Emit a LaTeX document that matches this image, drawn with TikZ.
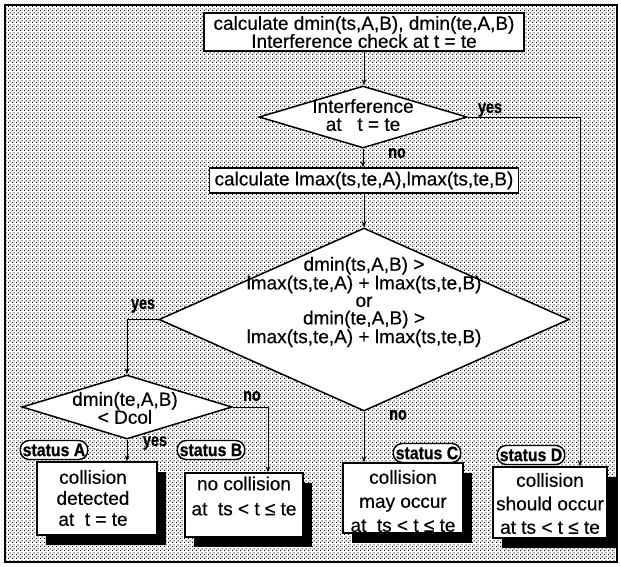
\documentclass[tikz,border=0pt]{standalone}
\usepackage{fontspec}
\setmainfont{Liberation Sans}
\newfontfamily\flowfont[FakeBold=0.4]{Liberation Sans}
\newfontfamily\tagfont[FakeStretch=0.88,FakeBold=0.8]{Liberation Sans}
\newfontfamily\ansfont[FakeStretch=0.8,FakeBold=0.8]{Liberation Sans}
\usetikzlibrary{shapes.geometric,arrows.meta,patterns.meta,shadows}

% fine dotted screen for the background
\tikzdeclarepattern{
  name=stipple, type=uncolored,
  bottom left={(0pt,0pt)}, top right={(4pt,4pt)}, tile size={(4pt,4pt)},
  code={\fill (0pt,0pt) rectangle (1.3pt,1.3pt);
        \fill (2pt,2pt) rectangle (3.3pt,3.3pt);}
}

\tikzset{
  box/.style={draw, line width=1.5pt, fill=white, inner sep=0pt},
  txt/.style={font=\flowfont\fontsize{19}{18}\selectfont, align=center, inner sep=0pt},
  stat/.style={box, drop shadow={shadow xshift=9pt, shadow yshift=-10pt, fill=black, opacity=1}},
  dia/.style={diamond, draw, line width=1.5pt, fill=white, inner sep=0pt},
  tag/.style={font=\tagfont\bfseries\fontsize{18}{18}\selectfont, draw, line width=1.4pt,
    fill=white, rounded corners=9pt, minimum height=19pt, inner xsep=2.5pt, inner ysep=0pt},
  ans/.style={font=\ansfont\bfseries\fontsize{18}{18}\selectfont, inner sep=0pt},
  arr/.style={line width=1pt, -{Stealth[length=6pt,width=4.5pt]}},
}

\begin{document}
\begin{tikzpicture}[x=1pt, y=-1pt]
\useasboundingbox (0,0) rectangle (621,566);
\fill[white] (5,5) rectangle (617,562);
\draw[line width=1.5pt, pattern=stipple, pattern color=black] (5,5) rectangle (617,562);

% process boxes
\node[box, txt, minimum width=320pt, minimum height=38pt] (top) at (364,32)
  {calculate dmin(ts,A,B), dmin(te,A,B)\\Interference check at t = te};
\node[box, txt, minimum width=309pt, minimum height=25pt] (lmax) at (364,180.5)
  {calculate lmax(ts,te,A),lmax(ts,te,B)};

% decisions
\node[dia, minimum width=208pt, minimum height=62pt] (d1) at (363,117) {};
\node[txt] (d1t) at (363,115) {Interference\\at \ \ t = te};
\node[dia, minimum width=410pt, minimum height=183pt] (d2) at (364,319.5) {};
\node[txt, font=\flowfont\fontsize{19}{17.5}\selectfont] (d2t) at (364,302)
  {dmin(ts,A,B) >\\lmax(ts,te,A) + lmax(ts,te,B)\\or\\dmin(te,A,B) >\\lmax(ts,te,A) + lmax(ts,te,B)};
\node[dia, minimum width=210pt, minimum height=64pt] (d3) at (127,407) {};
\node[txt] (d3t) at (125,408) {dmin(te,A,B)\\< Dcol};

% result boxes
\node[stat, minimum width=120pt, minimum height=73pt] (bA) at (97,498.5) {};
\node[stat, minimum width=118pt, minimum height=64pt] (bB) at (244,505) {};
\node[stat, minimum width=120pt, minimum height=70pt] (bC) at (403,498) {};
\node[stat, minimum width=114pt, minimum height=71pt] (bD) at (550,502.5) {};
\node[txt, font=\flowfont\fontsize{19}{21}\selectfont] (tA) at (93,498) {collision\\detected\\at \ t = te};
\node[txt, font=\flowfont\fontsize{19}{25}\selectfont] (tB) at (244,496) {no collision\\at \ ts < t ≤ te};
\node[txt, font=\flowfont\fontsize{19}{24}\selectfont] (tC) at (403,501) {collision\\may occur\\at \ ts < t ≤ te};
\node[txt, font=\flowfont\fontsize{19}{23.5}\selectfont] (tD) at (550,503.5) {collision\\should occur\\at ts < t ≤ te};

% connectors
\coordinate (colD) at (580,0);
\coordinate (colB) at (268,0);
\draw[arr] (top.south) -- (d1.north -| top.south);
\draw[arr] (d1.south) -- (lmax.north -| d1.south);
\draw[arr] (lmax.south) -- (d2.north);
\draw[arr] (d1.east) -| (colD |- bD.north);
\draw[arr] (d2.west) -| (d3.north);
\draw[arr] (d3.south) -- (d3.south |- bA.north);
\draw[arr] (d3.east) -| (colB |- bB.north);
\draw[arr] (d2.south) -- (d2.south |- bC.north);

% branch labels
\node[ans] (y1) at (490,110) {yes};
\node[ans] (n1) at (397,153) {no};
\node[ans] (y2) at (143,306) {yes};
\node[ans] (n2) at (398,415) {no};
\node[ans] (n3) at (252,396) {no};
\node[ans] (y3) at (155,443) {yes};

% status tags
\node[tag] (sA) at (54,450) {status A};
\node[tag] (sB) at (211,450) {status B};
\node[tag] (sC) at (427,453) {status C};
\node[tag] (sD) at (531,455) {status D};
\end{tikzpicture}
\end{document}
